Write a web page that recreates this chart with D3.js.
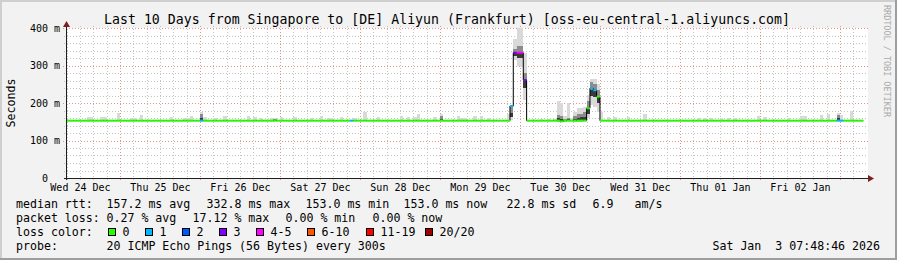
<!DOCTYPE html>
<html>
<head>
<meta charset="utf-8">
<script src="https://cdn.jsdelivr.net/npm/d3@7"></script>
<style>
  body { margin: 0; background: #f2f2f2; }
  svg { display: block; font-family: "DejaVu Sans Mono", monospace; }
  text { white-space: pre; }
</style>
</head>
<body>
<svg id="chart" width="897" height="260"></svg>
<script>
// ---- data ----
const chartTitle = "Last 10 Days from Singapore to [DE] Aliyun (Frankfurt) [oss-eu-central-1.aliyuncs.com]";
const rangeStart = Date.UTC(2025, 11, 24, 7, 48, 46);
const rangeEnd = Date.UTC(2026, 0, 3, 7, 48, 46);
const hourZero = Date.UTC(2025, 11, 24, 0, 0, 0);   // hour index 0
const firstHour = 7;
const lastHour = 247;                                // bins end here
const yTicks = [0, 100, 200, 300, 400];

const lossLabels = ["0", "1", "2", "3", "4-5", "6-10", "11-19", "20/20"];
const lossColors = ["#26ff00", "#00b8ff", "#0059ff", "#7e00ff", "#ff00ff", "#ff5500", "#ff0000", "#a10000"];

// median rtt, hourly steps: [hour, ms, loss class]
const medianSteps = [
  [7, 153, 0], [48, 153, 1], [49, 153, 0], [93, 153, 1], [94, 153, 0],
  [141, 192, 1], [142, 334, 3], [143, 334, 4], [145, 261, 3], [146, 153, 0],
  [156, 151, 0], [157, 153, 0],
  [164, 186, 0], [165, 239, 1], [166, 234, 1], [167, 217, 0], [168, 153, 0],
  [239, 153, 1], [241, 153, 0]
];

// smoke per hour: [hour, min, q1, q3, max] in ms
const smoke = [
  [14, 152, 153, 153, 163], [15, 152, 153, 153, 163], [18, 152, 153, 153, 163], [19, 152, 153, 153, 163],
  [23, 152, 153, 153, 173], [27, 152, 153, 153, 160], [28, 152, 153, 153, 160], [30, 152, 153, 153, 168],
  [39, 152, 153, 153, 163], [43, 152, 153, 153, 160], [44, 152, 153, 153, 160], [45, 152, 153, 153, 165],
  [48, 152, 153, 170, 177], [49, 152, 153, 153, 163], [52, 152, 153, 153, 160], [55, 152, 153, 153, 165],
  [62, 152, 153, 153, 165], [64, 152, 153, 153, 163], [66, 152, 153, 153, 160], [69, 152, 153, 153, 160],
  [70, 152, 153, 158, 160], [72, 152, 153, 153, 163], [76, 152, 153, 153, 163], [81, 152, 153, 153, 160],
  [84, 152, 153, 153, 165], [86, 152, 153, 153, 160], [87, 152, 153, 153, 160], [90, 152, 153, 153, 163],
  [94, 152, 153, 153, 160], [97, 152, 153, 153, 177], [101, 152, 153, 153, 163], [108, 152, 153, 153, 165],
  [110, 152, 153, 153, 163], [112, 152, 153, 153, 163], [113, 152, 153, 153, 171], [118, 152, 153, 153, 163],
  [120, 152, 153, 165, 171], [125, 152, 153, 153, 165], [126, 152, 153, 153, 160], [127, 152, 153, 153, 160],
  [130, 152, 153, 153, 165], [132, 152, 153, 153, 165], [134, 152, 153, 153, 160], [140, 152, 153, 153, 170],
  [141, 155, 162, 190, 196], [142, 316, 325, 345, 370], [143, 300, 320, 352, 430], [144, 296, 320, 352, 430],
  [145, 208, 240, 280, 333], [150, 152, 153, 153, 158], [152, 152, 153, 153, 158], [154, 152, 153, 153, 158],
  [155, 150, 153, 168, 205], [156, 149, 152, 165, 200], [157, 150, 152, 158, 165], [158, 152, 153, 160, 200],
  [159, 152, 153, 156, 160], [160, 150, 153, 165, 175], [161, 150, 153, 170, 187], [162, 150, 153, 172, 187],
  [163, 152, 155, 175, 190], [164, 160, 172, 205, 222], [165, 195, 220, 255, 265], [166, 190, 215, 250, 265],
  [167, 175, 200, 235, 252], [168, 152, 153, 153, 176], [170, 152, 153, 153, 163], [172, 152, 153, 153, 163],
  [176, 152, 153, 153, 162], [181, 152, 153, 153, 170], [197, 152, 153, 153, 160], [199, 152, 153, 153, 160],
  [201, 152, 153, 153, 160], [204, 152, 153, 153, 160], [206, 152, 153, 153, 160], [208, 152, 153, 153, 160],
  [215, 152, 153, 153, 165], [217, 152, 153, 153, 163], [224, 152, 153, 153, 160], [228, 152, 153, 153, 165],
  [229, 152, 153, 153, 165], [234, 152, 153, 153, 168], [236, 152, 153, 153, 170], [239, 152, 153, 168, 174],
  [240, 152, 153, 153, 168], [243, 152, 153, 153, 180]
];

const rttLegend = ["median rtt:", "157.2 ms avg", "332.8 ms max", "153.0 ms min", "153.0 ms now", "22.8 ms sd", "6.9", "am/s"];
const lossLegend = ["packet loss:", "0.27 % avg", "17.12 % max", "0.00 % min", "0.00 % now"];
const probeLegend = ["probe:", "20 ICMP Echo Pings (56 Bytes) every 300s"];
const stampText = "Sat Jan  3 07:48:46 2026";
const watermark = "RRDTOOL / TOBI OETIKER";

// ---- layout ----
const W = 897, H = 260;
const plot = { left: 66, right: 866, top: 28, bottom: 178 };
const rttCols = [16, 106.5, 206.5, 305.5, 403.5, 506.5, 592.5, 634.5];
const lossCols = [16, 106.5, 192.5, 285.5, 372.5];
const legendFont = 11.6;

const svg = d3.select("#chart");

// background + 3d frame
svg.append("rect").attr("width", W).attr("height", H).attr("fill", "#f2f2f2");
svg.append("rect").attr("x", 0).attr("y", 0).attr("width", W).attr("height", 2).attr("fill", "#cfcfcf");
svg.append("rect").attr("x", 0).attr("y", 0).attr("width", 2).attr("height", H).attr("fill", "#cfcfcf");
svg.append("rect").attr("x", 0).attr("y", H - 2).attr("width", W).attr("height", 2).attr("fill", "#9e9e9e");
svg.append("rect").attr("x", W - 2).attr("y", 0).attr("width", 2).attr("height", H).attr("fill", "#9e9e9e");

const hourDate = h => new Date(hourZero + h * 3600e3);

const x = d3.scaleUtc()
    .domain([new Date(rangeStart), new Date(rangeEnd)])
    .range([plot.left, plot.right]);
const y = d3.scaleLinear()
    .domain([0, 400])
    .range([plot.bottom, plot.top]);

// canvas
svg.append("rect")
    .attr("x", plot.left).attr("y", plot.top)
    .attr("width", plot.right - plot.left + 2).attr("height", plot.bottom - plot.top)
    .attr("fill", "#fff");

// grid
const grid = svg.append("g").attr("shape-rendering", "crispEdges").attr("stroke-width", 1).attr("stroke-dasharray", "1,2");
const days = d3.utcDay.range(new Date(rangeStart), new Date(rangeEnd));
const minorHours = d3.utcHour.every(4).range(new Date(rangeStart), new Date(rangeEnd))
    .filter(d => d.getUTCHours() !== 0);

grid.selectAll(".vmin").data(minorHours).join("line")
    .attr("x1", d => Math.round(x(d)) + 0.5).attr("x2", d => Math.round(x(d)) + 0.5)
    .attr("y1", plot.top - 2).attr("y2", plot.bottom + 3)
    .attr("stroke", "#c4c4c4");
const hMinor = d3.range(20, 401, 20).filter(v => v % 100 !== 0);
grid.selectAll(".hmin").data(hMinor).join("line")
    .attr("x1", plot.left - 2).attr("x2", plot.right + 2)
    .attr("y1", d => Math.round(y(d)) + 0.5).attr("y2", d => Math.round(y(d)) + 0.5)
    .attr("stroke", "#c4c4c4");
grid.selectAll(".vmaj").data(days).join("line")
    .attr("x1", d => Math.round(x(d)) + 0.5).attr("x2", d => Math.round(x(d)) + 0.5)
    .attr("y1", plot.top - 2).attr("y2", plot.bottom + 3)
    .attr("stroke", "#e89090");
grid.selectAll(".hmaj").data(yTicks.filter(v => v > 0)).join("line")
    .attr("x1", plot.left - 3).attr("x2", plot.right + 2)
    .attr("y1", d => Math.round(y(d)) + 0.5).attr("y2", d => Math.round(y(d)) + 0.5)
    .attr("stroke", "#e89090");

// plotting area clip
svg.append("clipPath").attr("id", "clip")
  .append("rect").attr("x", plot.left).attr("y", plot.top)
    .attr("width", plot.right - plot.left).attr("height", plot.bottom - plot.top);
const marks = svg.append("g").attr("clip-path", "url(#clip)");

// smoke
const binX0 = h => x(hourDate(h));
const binX1 = h => x(hourDate(h + 1));
const smokeG = marks.append("g").attr("shape-rendering", "crispEdges");
const band = (sel, lo, hi, fill) => sel.append("rect")
    .attr("x", d => binX0(d[0])).attr("width", d => binX1(d[0]) - binX0(d[0]))
    .attr("y", d => y(hi(d))).attr("height", d => Math.max(0, y(lo(d)) - y(hi(d))))
    .attr("fill", fill);
const sbin = smokeG.selectAll("g").data(smoke).join("g");
band(sbin, d => d[1], d => d[4], "#d9d9d9");
band(sbin, d => d[2], d => d[3], "#8c8c8c");
band(sbin, d => d[2], d => d[2] + (d[3] - d[2]) * 0.45, "#3a3a3a");

// median per hour bin, looked up from the step list
const medianAt = h => {
  let s = medianSteps[0];
  for (const m of medianSteps) if (m[0] <= h) s = m;
  return s;
};
const bins = d3.range(firstHour, lastHour).map(h => ({ h, ms: medianAt(h)[1], loss: medianAt(h)[2] }));

const stepLine = d3.line()
    .curve(d3.curveStepAfter)
    .x(d => binX0(d.h))
    .y(d => y(d.ms));
marks.append("path")
    .datum(bins.concat([{ h: lastHour, ms: bins[bins.length - 1].ms }]))
    .attr("d", stepLine)
    .attr("fill", "none").attr("stroke", "#000").attr("stroke-width", 1);

marks.append("g").selectAll("line").data(bins).join("line")
    .attr("x1", d => binX0(d.h)).attr("x2", d => binX1(d.h))
    .attr("y1", d => y(d.ms)).attr("y2", d => y(d.ms))
    .attr("stroke", d => lossColors[d.loss]).attr("stroke-width", 2);

// axes
const noons = d3.utcDay.range(d3.utcDay.floor(new Date(rangeStart)), new Date(rangeEnd))
    .map(d => d3.utcHour.offset(d, 12))
    .filter(d => d >= rangeStart && d <= rangeEnd);
const xAxis = d3.axisBottom(x)
    .tickValues(noons)
    .tickFormat(d3.utcFormat("%a %d %b"))
    .tickSize(0).tickPadding(5.9);
const gx = svg.append("g").attr("transform", `translate(0,${plot.bottom})`).call(xAxis);
gx.select(".domain").remove();
gx.selectAll("text").attr("font-size", 10).attr("font-family", "DejaVu Sans Mono").attr("fill", "#000");

const yAxis = d3.axisLeft(y)
    .tickValues(yTicks)
    .tickFormat(v => v === 0 ? "0  " : v + " m")
    .tickSize(0).tickPadding(6);
const gy = svg.append("g").attr("transform", `translate(${plot.left},0)`).call(yAxis);
gy.select(".domain").remove();
gy.selectAll("text").attr("font-size", 10).attr("font-family", "DejaVu Sans Mono").attr("fill", "#000");

// axis lines with arrows
svg.append("line").attr("x1", plot.left - 2).attr("x2", plot.right + 3)
    .attr("y1", plot.bottom + 0.5).attr("y2", plot.bottom + 0.5)
    .attr("stroke", "#1f1f1f").attr("shape-rendering", "crispEdges");
svg.append("line").attr("x1", plot.left + 0.5).attr("x2", plot.left + 0.5)
    .attr("y1", plot.bottom + 2).attr("y2", plot.top - 3)
    .attr("stroke", "#1f1f1f").attr("shape-rendering", "crispEdges");
svg.append("path")
    .attr("d", `M${plot.right + 2},${plot.bottom - 3}L${plot.right + 8},${plot.bottom + 0.5}L${plot.right + 2},${plot.bottom + 4}Z`)
    .attr("fill", "#801f1f");
svg.append("path")
    .attr("d", `M${plot.left - 3},${plot.top - 1}L${plot.left + 0.5},${plot.top - 7}L${plot.left + 4},${plot.top - 1}Z`)
    .attr("fill", "#801f1f");

// title, y label, watermark
svg.append("text").attr("x", 447).attr("y", 24)
    .attr("text-anchor", "middle").attr("font-size", 13.2)
    .attr("textLength", 686).attr("lengthAdjust", "spacing")
    .text(chartTitle);
svg.append("text")
    .attr("transform", `translate(15,${(plot.top + plot.bottom) / 2}) rotate(-90)`)
    .attr("text-anchor", "middle").attr("font-size", legendFont)
    .text("Seconds");
svg.append("text")
    .attr("transform", "translate(884,5) rotate(90)")
    .attr("font-size", 8.5).attr("fill", "#aaaaaa")
    .attr("textLength", 112).attr("lengthAdjust", "spacing")
    .text(watermark);

// legend
const legend = svg.append("g").attr("font-size", legendFont).attr("fill", "#000");
legend.selectAll(".rtt").data(rttLegend).join("text")
    .attr("x", (d, i) => rttCols[i]).attr("y", 208).text(d => d);
legend.selectAll(".loss").data(lossLegend).join("text")
    .attr("x", (d, i) => lossCols[i]).attr("y", 222).text(d => d);
legend.append("text").attr("x", 16).attr("y", 236).text("loss color:");

const swatchX = [108, 145, 182, 219, 256, 307, 366, 425];
const sw = legend.selectAll(".sw").data(lossLabels).join("g")
    .attr("transform", (d, i) => `translate(${swatchX[i]},228)`);
sw.append("rect").attr("x", 0.5).attr("y", 0.5).attr("width", 7).attr("height", 7)
    .attr("fill", (d, i) => lossColors[i]).attr("stroke", "#000").attr("shape-rendering", "crispEdges");
sw.append("text").attr("x", 14.5).attr("y", 8).text(d => d);

legend.selectAll(".probe").data(probeLegend).join("text")
    .attr("x", (d, i) => [16, 106.5][i]).attr("y", 250).text(d => d);
legend.append("text").attr("x", 880).attr("y", 250).attr("text-anchor", "end").text(stampText);
</script>
</body>
</html>
